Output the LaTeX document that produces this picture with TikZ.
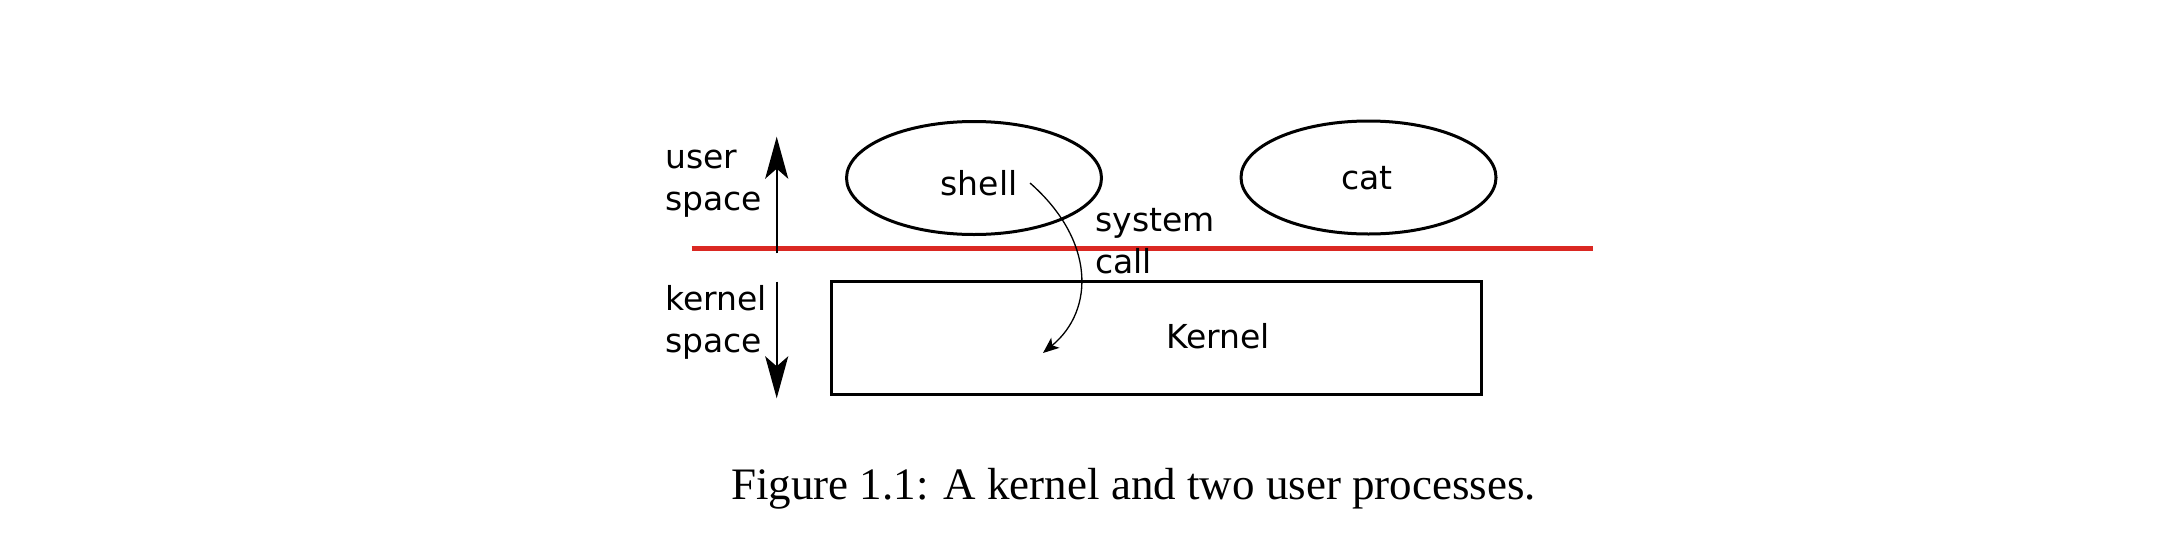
\documentclass[tikz,border=0pt]{standalone}
\usepackage{fontspec}
\setmainfont{Liberation Serif}
\newfontfamily\dvsans{DejaVu Sans}
\usetikzlibrary{shapes.geometric,arrows.meta}
\definecolor{sepred}{RGB}{218,40,34}
\begin{document}
\begin{tikzpicture}[x=0.5pt,y=-0.5pt,
  lbl/.style={font=\dvsans\fontsize{16.5}{20.75}\selectfont, inner sep=0pt, align=left},
  proc/.style={ellipse, draw, line width=1.5pt, minimum width=127.5pt, minimum height=56.5pt, inner sep=0pt},
  kbox/.style={rectangle, draw, line width=1.5pt, minimum width=325pt, minimum height=56.6pt, inner sep=0pt},
  bigarrow/.style={line width=1.1pt, -{Stealth[length=21pt, width=11.5pt, inset=5pt]}},
  callarrow/.style={line width=0.65pt, -{Stealth[length=8pt, width=6.5pt, inset=2pt]}},
  sepline/.style={line width=2.6pt, draw=sepred}]
\useasboundingbox (0,0) rectangle (2182,546);
% separator line
\coordinate (sepL) at (691.7,248.3);
\coordinate (sepR) at (1593.3,248.3);
\draw[sepline] (sepL) -- (sepR);
% processes
\node[proc] (shell) at (974,178) {};
\node[lbl, anchor=base] (shelltxt) at (979,195) {shell};
\node[proc] (cat) at (1368.5,177.5) {};
\node[lbl, anchor=base] (cattxt) at (1367,189.3) {cat};
% kernel
\node[kbox] (kernel) at (1156.7,338.3) {};
\node[lbl, anchor=base] (kerneltxt) at (1218,348.3) {Kernel};
% side labels (base anchor = last line)
\node[lbl, anchor=base west] (user) at (665,210) {user\\space};
\node[lbl, anchor=base west] (kspace) at (665,352) {kernel\\space};
\node[lbl, anchor=base west] (syscall) at (1095,273) {system\\call};
% vertical arrows
\coordinate (upS) at (776.7,253.3);
\coordinate (upE) at (776.7,136.7);
\coordinate (dnS) at (776.7,281.7);
\coordinate (dnE) at (776.7,398.3);
\draw[bigarrow] (upS) -- (upE);
\draw[bigarrow] (dnS) -- (dnE);
% system call curve
\coordinate (callS) at (1030,183);
\coordinate (callE) at (1043,353);
\draw[callarrow] (callS) .. controls (1095,240) and (1095,310) .. (callE);
% caption
\node[font=\fontsize{22.5}{27}\selectfont, anchor=base, inner sep=0pt] (caption) at (1133.5,499) {Figure 1.1: A kernel and two user processes.};
\end{tikzpicture}
\end{document}
